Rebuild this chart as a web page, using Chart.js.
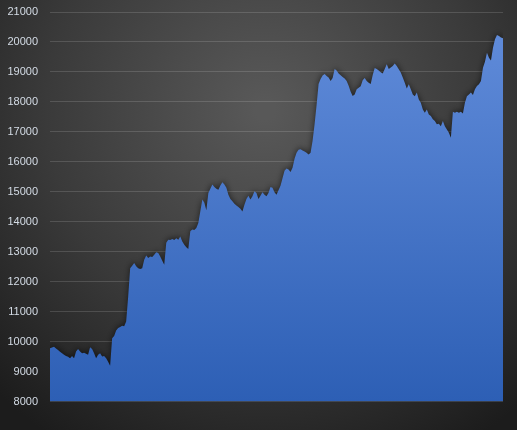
<!DOCTYPE html>
<html>
<head>
<meta charset="utf-8">
<script src="https://cdn.jsdelivr.net/npm/chart.js@4"></script>
<style>
  html, body { margin: 0; padding: 0; background: #2a2a2a; }
  #wrap { width: 517px; height: 430px; }
</style>
</head>
<body>
<div id="wrap"><canvas id="chart" width="517" height="430"></canvas></div>
<script>
// values, left to right
const values = [
  9780, 9800, 9830, 9770, 9720, 9660, 9610, 9560, 9520, 9490,
  9440, 9520, 9440, 9670, 9750, 9670, 9610, 9630, 9590, 9560,
  9810, 9750, 9610, 9440, 9560, 9610, 9500, 9520, 9440, 9330,
  9190, 10110, 10190, 10370, 10450, 10490, 10530, 10510, 10670, 11500,
  12450, 12530, 12620, 12510, 12450, 12420, 12450, 12730, 12870, 12790,
  12840, 12820, 12900, 12980, 12960, 12840, 12700, 12565, 13300, 13400,
  13390, 13420, 13390, 13450, 13400, 13510, 13340, 13230, 13150, 13090,
  13680, 13740, 13720, 13790, 13960, 14350, 14740, 14630, 14380, 14960,
  15100, 15240, 15160, 15100, 15070, 15210, 15320, 15240, 15130, 14900,
  14760, 14680, 14600, 14540, 14490, 14430, 14340, 14570, 14760, 14870,
  14740, 14850, 15020, 14960, 14760, 14870, 14980, 14900, 14850, 14960,
  15160, 15130, 14980, 14900, 15050, 15200, 15450, 15700, 15780, 15740,
  15660, 15800, 16100, 16300, 16400, 16420, 16380, 16340, 16300, 16240,
  16300, 16700, 17250, 17900, 18600, 18760, 18880, 18930, 18860, 18810,
  18700, 18800, 19100, 19050, 18950, 18890, 18830, 18780, 18700, 18540,
  18340, 18200, 18250, 18420, 18470, 18520, 18720, 18800, 18700, 18640,
  18600, 18900, 19130, 19100, 19050, 18990, 18950, 19100, 19260, 19100,
  19150, 19200, 19280, 19200, 19090, 18980, 18810, 18640, 18450, 18590,
  18420, 18250, 18190, 18310, 18080, 17970, 17750, 17640, 17750, 17580,
  17530, 17420, 17360, 17250, 17270, 17190, 17360, 17190, 17080, 16970,
  16800, 17670, 17640, 17670, 17640, 17670, 17610, 17970, 18190, 18250,
  18310, 18230, 18420, 18530, 18590, 18700, 19140, 19340, 19640, 19470,
  19380, 19810, 20090, 20230, 20200, 20150, 20120
];
const categories = values.map((_, i) => String(i + 1));

const yMin = 8000;
const yMax = 21000;
const yStep = 1000;

// dark vignette behind everything
const backgroundPlugin = {
  id: 'bg',
  beforeDraw: (chart) => {
    const ctx = chart.ctx;
    const g = ctx.createRadialGradient(265, 110, 10, 265, 110, 390);
    g.addColorStop(0, '#585858');
    g.addColorStop(0.55, '#3a3a3a');
    g.addColorStop(1, '#1c1c1c');
    ctx.save();
    ctx.fillStyle = g;
    ctx.fillRect(0, 0, chart.width, chart.height);
    ctx.restore();
  }
};

// soft shadow under the area
const shadowPlugin = {
  id: 'areaShadow',
  beforeDatasetsDraw: (chart) => {
    const ctx = chart.ctx;
    ctx.save();
    ctx.shadowColor = 'rgba(0,0,0,0.55)';
    ctx.shadowBlur = 6;
    ctx.shadowOffsetX = 0;
    ctx.shadowOffsetY = -1;
  },
  afterDatasetsDraw: (chart) => {
    chart.ctx.restore();
  }
};

const areaFill = (context) => {
  const { chart } = context;
  const area = chart.chartArea;
  if (!area) return '#4470c4';
  const g = chart.ctx.createLinearGradient(0, area.top, 0, area.bottom);
  g.addColorStop(0, '#628ddb');
  g.addColorStop(1, '#2d5fb5');
  return g;
};

new Chart(document.getElementById('chart'), {
  type: 'line',
  data: {
    labels: categories,
    datasets: [{
      data: values,
      fill: 'start',
      backgroundColor: areaFill,
      borderWidth: 0,
      borderColor: 'rgba(0,0,0,0)',
      pointRadius: 0,
      tension: 0
    }]
  },
  options: {
    responsive: false,
    animation: false,
    layout: { padding: { top: 12, right: 14, bottom: 28.5, left: 0 } },
    plugins: {
      legend: { display: false },
      tooltip: { enabled: false }
    },
    scales: {
      x: {
        display: false,
        offset: false
      },
      y: {
        min: yMin,
        max: yMax,
        afterFit: (scale) => {
          scale.width = 50;
          scale.paddingTop = 0;
          scale.paddingBottom = 0;
        },
        border: { display: false },
        grid: {
          color: 'rgba(255,255,255,0.14)',
          lineWidth: 1,
          drawTicks: false
        },
        ticks: {
          stepSize: yStep,
          padding: 12,
          color: '#d4dce6',
          font: { family: 'Liberation Sans', size: 11 },
          callback: (v) => String(v)
        }
      }
    }
  },
  plugins: [backgroundPlugin, shadowPlugin]
});
</script>
</body>
</html>
